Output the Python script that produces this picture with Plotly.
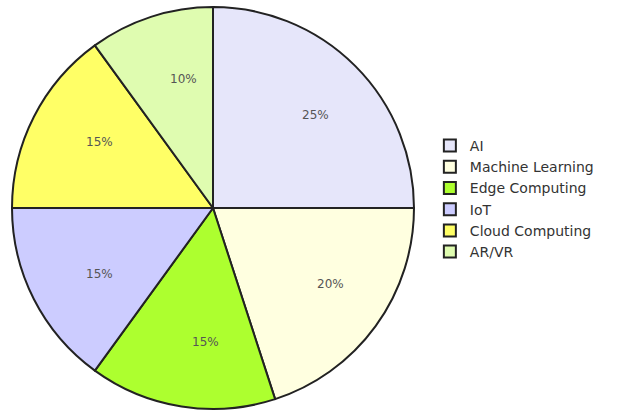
import math
import plotly.graph_objects as go

labels = ["AI", "Machine Learning", "Edge Computing", "IoT", "Cloud Computing", "AR/VR"]
values = [25, 20, 15, 15, 15, 10]
colors = ["#E6E6FA", "#FFFFE0", "#ADFF2F", "#CCCCFF", "#FFFF66", "#DFFCB0"]

W, H = 623, 411
dom_x = [12 / W, 414 / W]
dom_y = [1 - 409 / H, 1 - 7 / H]

fig = go.Figure(go.Pie(
    labels=labels,
    values=values,
    sort=False,
    direction="clockwise",
    rotation=0,
    marker=dict(colors=colors, line=dict(color="#222222", width=2)),
    textinfo="none",
    domain=dict(x=dom_x, y=dom_y),
))

# percentage labels placed at ~0.72 of radius along each slice's mid-angle
total = sum(values)
cx = (dom_x[0] + dom_x[1]) / 2 * W
cy = (1 - (dom_y[0] + dom_y[1]) / 2) * H
R = min((dom_x[1] - dom_x[0]) * W, (dom_y[1] - dom_y[0]) * H) / 2
cum = 0
for v in values:
    mid = (cum + v / 2) / total * 2 * math.pi
    cum += v
    px = cx + 0.72 * R * math.sin(mid)
    py = cy - 0.72 * R * math.cos(mid)
    fig.add_annotation(x=px / W, y=1 - py / H, xref="paper", yref="paper",
                       text=f"{round(v / total * 100)}%", showarrow=False,
                       font=dict(size=12, color="#555555", family="DejaVu Sans"))

fig.update_layout(
    width=W, height=H,
    margin=dict(l=0, r=0, t=0, b=0),
    paper_bgcolor="white",
    font=dict(family="DejaVu Sans", size=13, color="#333333"),
    legend=dict(x=0.69, y=1 - 130 / H, xanchor="left", yanchor="top",
                font=dict(size=14, color="#333333"), tracegroupgap=0),
)
fig.write_html("out.html")
